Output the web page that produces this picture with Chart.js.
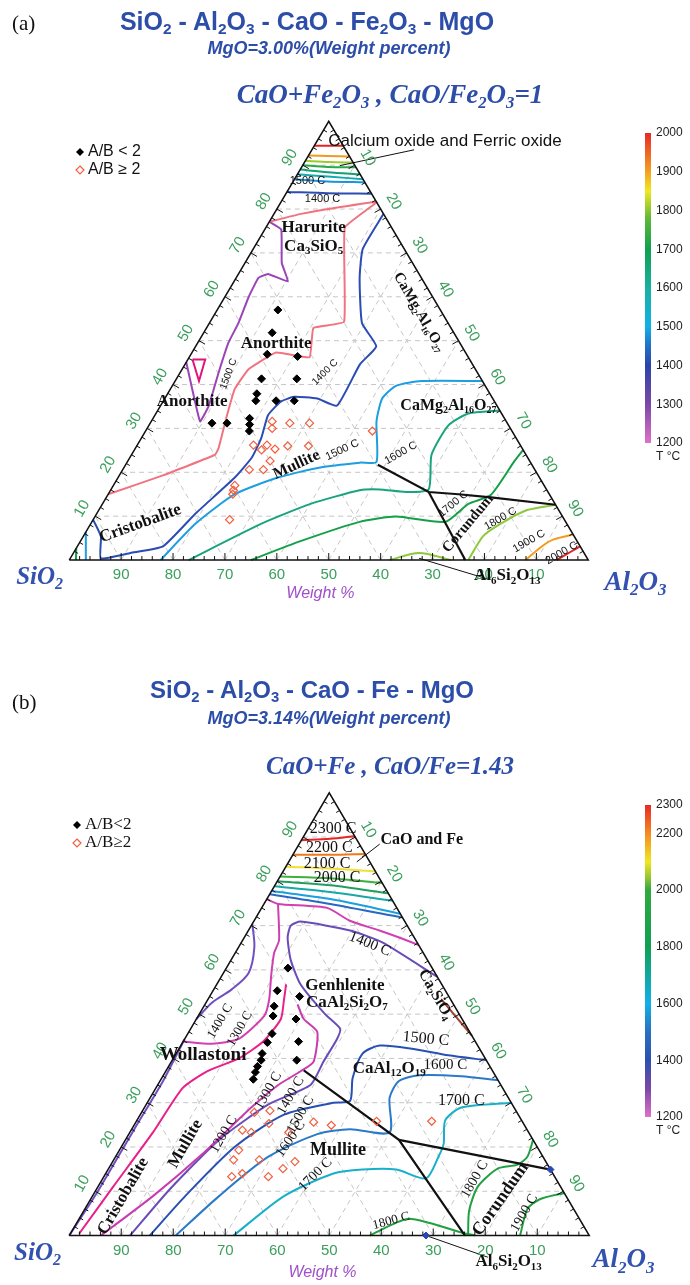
<!DOCTYPE html>
<html>
<head>
<meta charset="utf-8">
<title>SiO2 - Al2O3 - CaO ternary diagrams</title>
<script src="https://cdn.jsdelivr.net/npm/chart.js@4.4.1/dist/chart.umd.min.js"></script>
<style>
  html, body { margin: 0; padding: 0; background: #fff; }
  body { position: relative; width: 690px; height: 1285px; overflow: hidden; }
  canvas { position: absolute; left: 0; }
  .txt { position: absolute; white-space: nowrap; transform: translate(-50%, -50%); color: #2c4da8; line-height: 1; z-index: 2; }
  .main { font: bold 24px "Liberation Sans", Arial, sans-serif; }
  .sub { font: italic bold 18px "Liberation Sans", Arial, sans-serif; }
  .ratio { font: italic bold 26px "Liberation Serif", "Times New Roman", serif; }
  .tag { position: absolute; font: 21px "Liberation Serif", serif; color: #111; transform: translateY(-50%); z-index: 2; }
  sub { font-size: 62%; vertical-align: -0.3em; line-height: 0; }
</style>
</head>
<body>
<canvas id="chartA" width="690" height="640" style="top:0"></canvas>
<canvas id="chartB" width="690" height="645" style="top:640px"></canvas>

<div class="tag" style="left:12px;top:23px">(a)</div>
<div class="txt main" style="left:307px;top:21px;font-size:25px">SiO<sub>2</sub> - Al<sub>2</sub>O<sub>3</sub> - CaO - Fe<sub>2</sub>O<sub>3</sub> - MgO</div>
<div class="txt sub" style="left:329px;top:48px">MgO=3.00%(Weight percent)</div>
<div class="txt ratio" style="left:390px;top:94px;font-size:27px">CaO+Fe<sub>2</sub>O<sub>3</sub> , CaO/Fe<sub>2</sub>O<sub>3</sub>=1</div>

<div class="tag" style="left:12px;top:702px">(b)</div>
<div class="txt main" style="left:312px;top:690px">SiO<sub>2</sub> - Al<sub>2</sub>O<sub>3</sub> - CaO - Fe - MgO</div>
<div class="txt sub" style="left:329px;top:718px">MgO=3.14%(Weight percent)</div>
<div class="txt ratio" style="left:390px;top:766px;font-size:25px">CaO+Fe , CaO/Fe=1.43</div>

<script>
// every point is [Al2O3 %, CaO(+Fe) %]; SiO2 is the rest
const gridTicks = [10, 20, 30, 40, 50, 60, 70, 80, 90];
const minorStep = 2;

// ---------- (a) CaO + Fe2O3 ----------
const aTop2000 = [[0, 94.4], [2.8, 94.4], [5.6, 94.4]];
const aTop1900 = [[0, 92.2], [3.9, 92.1], [8.0, 92.0]];
const aTop1800 = [[0, 91.0], [4.6, 90.7], [9.4, 90.6]];
const aTop1700 = [[0, 90.0], [5.0, 89.6], [10.5, 89.5]];
const aTop1650 = [[0, 89.0], [5.6, 88.4], [12.1, 87.9]];
const aTop1600 = [[0, 87.9], [6.1, 87.4], [13.2, 86.8]];
const aTop1500 = [[0, 86.8], [6.6, 86.3], [13.9, 86.1]];
const aTop1400 = [[0, 83.9], [8.0, 83.6], [16.5, 83.5]];
const aSalmon = [[0, 77.1], [5.2, 78.9], [18.4, 81.6], [15.2, 75.8], [25.8, 54.3], [20.6, 52.9], [23.2, 46.2],
  [16.2, 47.3], [12.8, 43.5], [12.4, 39.0], [13.9, 33.0], [16.0, 25.6], [16.1, 24.0], [8.4, 19.3], [0, 15.0]];
const aPurple = [[0, 77.1], [3.2, 75.3], [7.1, 67.7], [10.4, 63.5], [5.7, 65.2], [4.3, 64.3], [4.6, 59.9],
  [5.6, 54.0], [5.9, 49.6], [7.4, 42.8], [9.3, 35.2], [9.4, 31.6], [0, 45.1]];
const aMagTri = [[0.9, 45.7], [3.35, 45.7], [4.6, 40.8], [0.9, 45.7]];
const aBlue1400 = [[21.1, 78.9], [21.1, 70.9], [23.8, 64.3], [29.4, 54.0], [34.8, 48.7], [33.7, 44.6], [34.0, 35.2],
  [29.4, 36.8], [24.7, 37.2], [22.7, 36.1], [21.8, 33.0], [23.1, 27.8], [23.5, 23.3], [22.5, 18.8], [19.0, 10.5],
  [16.5, 3.1], [11.0, 1.6], [5.9, 0.4], [3.4, 5.4], [0, 9.2]];
const aCyan1500 = [[17.6, 0], [20.2, 8.3], [24.4, 15.0], [30.8, 18.8], [37.8, 21.1], [44.9, 22.2], [48.0, 22.4],
  [43.4, 31.6], [41.9, 36.8], [43.1, 39.7], [47.5, 40.8], [59.2, 40.8]];
const aGreen1600 = [[23.0, 0], [32.9, 8.3], [40.1, 12.8], [48.0, 15.9], [51.7, 16.1], [57.1, 15.5], [61.2, 16.1],
  [57.8, 24.0], [57.7, 30.7], [60.2, 33.4], [65.9, 34.1]];
const aGreen1700 = [[35.0, 0], [42.4, 4.3], [51.6, 8.7], [58.0, 9.9], [68.1, 8.7], [70.5, 12.8], [73.8, 14.8],
  [74.5, 22.6], [74.9, 25.1]];
const aYg1800 = [[76.9, 0], [77.0, 5.4], [79.0, 8.3], [82.5, 11.4], [87.4, 12.6]];
const aYg1800b = [[61.7, 0], [66.6, 1.6], [73.6, 0]];
const aOr1900 = [[87.9, 0], [89.5, 3.1], [91.0, 4.7], [94.2, 5.8]];
const aRed2000 = [[93.9, 0], [95.8, 2.0], [96.9, 3.1]];
const aCorner1700 = [[1.3, 0], [0, 2.7]];
const aCorner1500 = [[3.2, 0], [0, 6.4]];
const aBoundA = [[48.6, 21.7], [61.5, 15.5], [67.5, 15.0], [74.1, 14.3], [87.4, 12.6]];
const aBoundB = [[61.5, 15.5], [76.3, 0]];
const aLeadCa = [[7.2, 89.9], [19.7, 93.5]];
const aLeadAl = [[67.2, 0.4], [82.7, -4.3]];
const aBlack = [[11.7, 57.0], [13.2, 51.8], [14.7, 46.9], [20.8, 46.4], [16.4, 41.3], [23.2, 41.3], [17.2, 37.9],
  [17.8, 36.3], [21.7, 36.3], [25.2, 36.3], [11.9, 31.2], [14.8, 31.2], [18.6, 32.3], [19.3, 30.9], [20.0, 29.4]];
const aRed = [[23.3, 31.6], [24.1, 30.0], [26.9, 31.2], [30.7, 31.2], [22.4, 26.2], [24.5, 25.1], [25.0, 26.2],
  [27.0, 25.3], [29.1, 26.0], [33.1, 26.0], [27.4, 22.6], [24.4, 20.6], [27.1, 20.6], [23.4, 17.0], [23.7, 15.9],
  [24.0, 15.0], [26.3, 9.2], [43.7, 29.4]];
const aBarTicks = [2000, 1900, 1800, 1700, 1600, 1500, 1400, 1300, 1200];

// ---------- (b) CaO + Fe ----------
const bTop2300 = [[0, 89.3], [5.4, 89.6], [9.8, 90.2]];
const bTop2200 = [[0, 86.0], [7.2, 86.0], [13.8, 86.2]];
const bTop2100 = [[0, 83.3], [8.75, 82.9], [17.8, 82.2]];
const bTop2000 = [[0, 81.1], [9.85, 80.7], [20.4, 79.6]];
const bTop1900 = [[0, 80.0], [10.65, 79.1], [22.7, 77.3]];
const bTop1800 = [[0, 78.9], [11.4, 77.6], [24.4, 75.6]];
const bTop1700 = [[0, 77.8], [12.2, 76.0], [27.3, 72.7]];
const bTop1600 = [[0, 77.1], [12.75, 74.9], [28.2, 71.8]];
const bMagTop = [[0, 76.0], [2.7, 74.9], [12.6, 74.0], [18.4, 71.1], [25.2, 68.9], [29.8, 67.3], [34.4, 65.6]];
const bMagVert = [[2.7, 74.9], [7.0, 66.7], [7.5, 63.8], [9.4, 58.9], [11.8, 53.3], [12.7, 49.6], [10.4, 44.4],
  [5.8, 43.3], [0, 43.8]];
const bPurpLoop = [[0, 70.4], [3.05, 65.1], [4.85, 59.3], [3.45, 55.6], [1.2, 52.7], [0, 48.9]];
const bPurpEdge = [[0, 44.4], [0.6, 34.9], [0.5, 23.8], [0.5, 9.6], [0, 0]];
const bMag1200 = [[1.7, 0.4], [2.95, 11.1], [4.45, 23.3], [5.15, 33.3], [7.95, 37.1], [12.6, 40.0], [15.4, 43.8],
  [16.25, 48.9], [14.65, 53.3], [13.35, 56.7]];
const bMag1300 = [[6.1, 0], [11.65, 8.9], [16.4, 18.4], [20.55, 28.9], [23.2, 34.0], [25.95, 37.1], [27.35, 39.3],
  [24.7, 46.0], [20.65, 48.9], [17.8, 52.2]];
const bPurp1400 = [[41.6, 58.4], [27.1, 66.2], [19.55, 68.9], [9.05, 70.9], [7.6, 70.0], [8.35, 67.3], [11.5, 62.2],
  [16.15, 56.7], [24.2, 50.0], [28.75, 46.7], [29.3, 44.4], [29.25, 39.3], [29.4, 34.0], [23.5, 29.6], [18.0, 21.6],
  [14.1, 10.4], [11.7, 0]];
const b1500 = [[15.5, 0], [17.85, 8.9], [21.8, 20.0], [27.65, 27.3], [35.8, 30.0], [38.8, 30.4], [36.7, 35.6],
  [35.85, 41.1], [38.25, 42.9], [44.8, 42.2], [52.55, 40.7], [60.4, 39.6]];
const b1600 = [[20.5, 0], [24.35, 8.9], [29.4, 17.8], [36.25, 22.9], [42.0, 24.0], [49.95, 23.3], [46.05, 31.1],
  [45.95, 34.9], [49.1, 36.2], [57.4, 36.0], [64.9, 35.1]];
const b1700 = [[31.6, 0], [36.85, 8.9], [43.8, 14.0], [48.95, 14.9], [55.45, 14.9], [62.15, 12.9], [62.1, 17.8],
  [61.65, 20.7], [59.3, 26.0], [60.95, 28.9], [70.0, 30.0]];
const b1800 = [[76.7, 0], [74.1, 5.6], [73.05, 11.1], [74.85, 15.1], [78.2, 16.0], [79.2, 17.8], [78.4, 21.6]];
const b1900 = [[86.7, 0], [85.1, 6.0], [86.4, 8.2], [90.4, 9.6]];
const b1800arc = [[57.8, 0], [61.45, 2.9], [63.4, 3.8], [67.65, 2.9], [75.05, 0.7], [78.0, 0]];
const bBoundA = [[26.45, 37.3], [52.6, 21.6], [76.1, 0]];
const bBoundB = [[52.6, 21.6], [85.1, 14.9]];
const bBrown = [[44.95, 53.3], [54.9, 45.1]];
const bLeadCa = [[13.1, 84.4], [15.5, 88.4]];
const bLeadAl = [[68.6, 0], [82.95, -4.9]];
const bBlueDots = [[85.1, 14.9], [68.6, 0]];
const bBlack = [[11.85, 60.4], [17.3, 54.0], [12.35, 55.3], [13.5, 51.8], [14.4, 49.6], [16.2, 45.6], [16.3, 43.6],
  [16.55, 41.1], [17.1, 39.6], [17.1, 38.2], [17.35, 36.9], [17.75, 35.3], [19.15, 48.9], [22.2, 43.8], [23.95, 39.6]];
const bRed = [[21.7, 27.8], [24.5, 28.2], [25.75, 25.3], [21.4, 23.8], [23.35, 23.3], [30.55, 23.3], [34.2, 25.6],
  [37.95, 24.9], [22.95, 19.3], [23.05, 17.1], [28.0, 17.1], [24.6, 13.3], [26.3, 14.0], [31.65, 13.3], [33.55, 15.1],
  [35.05, 16.7], [46.2, 25.8], [56.8, 25.8]];
const bBarTicks = [2300, 2200, 2000, 1800, 1600, 1400, 1200];

// ---------- helpers ----------
const toXY = ([a, c]) => ({ x: a + c / 2, y: c });

function fontFor(kind, size) {
  switch (kind) {
    case 'serifB': return `bold ${size}px "Liberation Serif", "Times New Roman", serif`;
    case 'serif': return `${size}px "Liberation Serif", "Times New Roman", serif`;
    case 'serifBI': return `italic bold ${size}px "Liberation Serif", "Times New Roman", serif`;
    case 'sansI': return `italic ${size}px "Liberation Sans", Arial, sans-serif`;
    default: return `${size}px "Liberation Sans", Arial, sans-serif`;
  }
}

// text with {sub} parts drawn as subscripts
function drawRich(ctx, text, x, y, kind, size, color, align, rot) {
  const parts = text.split(/(\{[^}]*\})/).filter(s => s.length)
    .map(s => s[0] === '{' ? { s: s.slice(1, -1), sub: true } : { s: s, sub: false });
  let total = 0;
  parts.forEach(p => {
    ctx.font = fontFor(kind, p.sub ? Math.round(size * 0.62) : size);
    p.w = ctx.measureText(p.s).width;
    total += p.w;
  });
  ctx.save();
  ctx.translate(x, y);
  ctx.rotate((rot || 0) * Math.PI / 180);
  ctx.fillStyle = color || '#111';
  ctx.textBaseline = 'middle';
  ctx.textAlign = 'left';
  let cx = align === 'left' ? 0 : -total / 2;
  parts.forEach(p => {
    ctx.font = fontFor(kind, p.sub ? Math.round(size * 0.62) : size);
    ctx.fillText(p.s, cx, p.sub ? size * 0.3 : 0);
    cx += p.w;
  });
  ctx.restore();
}

function lineSet(l) {
  return {
    data: l.pts.map(toXY), showLine: true, borderColor: l.c, borderWidth: l.w || 2,
    pointRadius: 0, tension: l.t === undefined ? 0.3 : l.t, fill: false, order: l.o || 5
  };
}

function gridSets() {
  const sets = [];
  gridTicks.forEach(v => {
    [[[0, v], [100 - v, v]], [[v, 0], [v, 100 - v]], [[100 - v, 0], [0, 100 - v]]].forEach(seg => {
      sets.push({
        data: seg.map(toXY), showLine: true, borderColor: '#c6c6c6', borderWidth: 1,
        borderDash: [5, 4], pointRadius: 0, tension: 0, order: 20
      });
    });
  });
  return sets;
}

const ternaryDeco = {
  id: 'ternaryDeco',
  afterDatasetsDraw(chart, args, opts) {
    const { ctx } = chart;
    const sx = chart.scales.x, sy = chart.scales.y;
    const px = p => { const q = toXY(p); return [sx.getPixelForValue(q.x), sy.getPixelForValue(q.y)]; };
    const c30 = Math.cos(Math.PI / 6), s30 = 0.5;

    // edge ticks
    ctx.save();
    ctx.strokeStyle = '#111';
    ctx.lineWidth = 1;
    for (let v = minorStep; v < 100; v += minorStep) {
      const len = v % 10 === 0 ? 7 : 4;
      const marks = [
        [px([v, 0]), [0, -1]],
        [px([0, v]), [c30, s30]],
        [px([v, 100 - v]), [-c30, s30]]
      ];
      marks.forEach(([p, d]) => {
        ctx.beginPath();
        ctx.moveTo(p[0], p[1]);
        ctx.lineTo(p[0] + d[0] * len, p[1] + d[1] * len);
        ctx.stroke();
      });
    }
    ctx.restore();

    // edge numbers
    gridTicks.forEach(v => {
      const b = px([v, 0]);
      drawRich(ctx, String(100 - v), b[0], b[1] + 15, 'sans', 15, '#3a9e5c');
      const l = px([0, v]);
      drawRich(ctx, String(v), l[0] - 15 * c30, l[1] - 15 * s30, 'sans', 15, '#3a9e5c', 'center', -60);
      const r = px([v, 100 - v]);
      drawRich(ctx, String(v), r[0] + 15 * c30, r[1] - 15 * s30, 'sans', 15, '#3a9e5c', 'center', 60);
    });

    // annotations
    opts.labels.forEach(l => {
      const p = px(l.at);
      drawRich(ctx, l.t, p[0], p[1], l.f, l.s, l.c, l.al, l.r);
    });

    // legend
    const lg = opts.legend;
    lg.items.forEach((it, i) => {
      const y = lg.y + i * lg.gap;
      ctx.save();
      ctx.beginPath();
      ctx.moveTo(lg.x, y - 4); ctx.lineTo(lg.x + 4, y); ctx.lineTo(lg.x, y + 4); ctx.lineTo(lg.x - 4, y); ctx.closePath();
      if (it.filled) { ctx.fillStyle = '#000'; ctx.fill(); }
      else { ctx.strokeStyle = '#f06040'; ctx.lineWidth = 1.2; ctx.stroke(); }
      ctx.restore();
      drawRich(ctx, it.t, lg.x + 8, y, lg.f, lg.s, '#111', 'left');
    });

    // temperature bar
    const bar = opts.bar;
    const ty = t => bar.top + (bar.tmax - t) / (bar.tmax - bar.tmin) * (bar.bottom - bar.top);
    const g = ctx.createLinearGradient(0, bar.bottom, 0, bar.top);
    bar.stops.forEach(([t, col]) => g.addColorStop((t - bar.tmin) / (bar.tmax - bar.tmin), col));
    ctx.save();
    ctx.fillStyle = g;
    ctx.fillRect(bar.x, bar.top, bar.w, bar.bottom - bar.top);
    ctx.restore();
    bar.ticks.forEach(t => drawRich(ctx, String(t), bar.x + bar.w + 5, ty(t), 'sans', 12, '#222', 'left'));
    drawRich(ctx, 'T °C', bar.x + bar.w + 5, ty(bar.tmin) + 14, 'sans', 12, '#222', 'left');
  }
};

function makeChart(id, frame, lines, points, deco) {
  const kx = (frame.right - frame.left) / 100;
  const ky = (frame.base - frame.apex) / 100;
  const datasets = gridSets();
  datasets.push({
    data: [[0, 0], [100, 0], [0, 100], [0, 0]].map(toXY), showLine: true, borderColor: '#111',
    borderWidth: 1.5, pointRadius: 0, tension: 0, order: 2
  });
  lines.forEach(l => datasets.push(lineSet(l)));
  points.forEach(p => datasets.push({
    data: p.pts.map(toXY), showLine: false, pointStyle: 'rectRot', pointRadius: p.r || 4,
    backgroundColor: p.fill, borderColor: p.stroke, borderWidth: p.bw || 1, order: 0
  }));
  return new Chart(document.getElementById(id), {
    type: 'scatter',
    data: { datasets },
    options: {
      responsive: false,
      devicePixelRatio: 1,
      animation: false,
      events: [],
      layout: { padding: 0 },
      scales: {
        x: { type: 'linear', display: false, bounds: 'data', min: -frame.left / kx, max: (frame.w - frame.left) / kx },
        y: { type: 'linear', display: false, bounds: 'data', min: -(frame.h - frame.base) / ky, max: frame.base / ky }
      },
      plugins: { legend: { display: false }, tooltip: { enabled: false }, ternaryDeco: deco }
    },
    plugins: [ternaryDeco]
  });
}

const blue = '#3352b0';

makeChart('chartA', { w: 690, h: 640, left: 65, right: 592, base: 564, apex: 118 }, [
  { pts: aTop2000, c: '#e42424' }, { pts: aTop1900, c: '#f39a1e' }, { pts: aTop1800, c: '#9ccc2c' },
  { pts: aTop1700, c: '#2aa84a' }, { pts: aTop1650, c: '#14a070' }, { pts: aTop1600, c: '#14a8b0' },
  { pts: aTop1500, c: '#1c94dc' }, { pts: aTop1400, c: '#2a4cb4' },
  { pts: aSalmon, c: '#f07480', t: 0.1 }, { pts: aPurple, c: '#9a44b8', t: 0.1 }, { pts: aMagTri, c: '#e0147c', t: 0 },
  { pts: aBlue1400, c: '#2a4cb4', t: 0.15 }, { pts: aCyan1500, c: '#1c9ee0', t: 0.2 },
  { pts: aGreen1600, c: '#18a47c', t: 0.2 }, { pts: aGreen1700, c: '#14a048', t: 0.2 },
  { pts: aYg1800, c: '#8cc83a', t: 0.2 }, { pts: aYg1800b, c: '#8cc83a' }, { pts: aOr1900, c: '#f39a1e' },
  { pts: aRed2000, c: '#e42424' }, { pts: aCorner1700, c: '#14a048', t: 0 }, { pts: aCorner1500, c: '#1c9ee0', t: 0 },
  { pts: aBoundA, c: '#111', w: 2.2, t: 0, o: 3 }, { pts: aBoundB, c: '#111', w: 2.2, t: 0, o: 3 },
  { pts: aLeadCa, c: '#111', w: 1, t: 0, o: 3 }, { pts: aLeadAl, c: '#111', w: 1, t: 0, o: 3 }
], [
  { pts: aBlack, fill: '#000', stroke: '#000' },
  { pts: aRed, fill: 'rgba(255,255,255,0)', stroke: '#f06040', bw: 1.2 }
], {
  labels: [
    { t: 'Calcium oxide and Ferric oxide', at: [2.15, 95.5], f: 'sans', s: 17, al: 'left' },
    { t: '1500 C', at: [2.65, 86.5], f: 'sans', s: 11 },
    { t: '1400 C', at: [7.65, 82.3], f: 'sans', s: 11 },
    { t: 'Harurite', at: [9.2, 75.8], f: 'serifB', s: 17 },
    { t: 'Ca{3}SiO{5}', at: [11.35, 71.5], f: 'serifB', s: 17 },
    { t: 'CaMg{2}Al{16}O{27}', at: [39.15, 56.5], f: 'serifB', s: 15, r: 60 },
    { t: 'Anorthite', at: [15.2, 49.3], f: 'serifB', s: 17 },
    { t: 'Anorthite', at: [5.65, 36.1], f: 'serifB', s: 17 },
    { t: '1500 C', at: [9.5, 42.4], f: 'sans', s: 10, r: -70 },
    { t: '1400 C', at: [27.9, 42.8], f: 'sans', s: 10, r: -45 },
    { t: 'CaMg{2}Al{16}O{27}', at: [55.45, 35.2], f: 'serifB', s: 16 },
    { t: '1600 C', at: [51.7, 24.4], f: 'sans', s: 11, r: -30 },
    { t: 'Mullite', at: [32.95, 21.7], f: 'serifB', s: 16, r: -25 },
    { t: '1500 C', at: [40.05, 25.1], f: 'sans', s: 11, r: -25 },
    { t: 'Cristobalite', at: [9.55, 8.3], f: 'serifB', s: 17, r: -20 },
    { t: '1700 C', at: [67.6, 12.8], f: 'sans', s: 11, r: -40 },
    { t: 'Corundum', at: [72.7, 8.3], f: 'serifB', s: 15, r: -50 },
    { t: '1800 C', at: [78.4, 9.4], f: 'sans', s: 11, r: -30 },
    { t: '1900 C', at: [86.45, 4.3], f: 'sans', s: 11, r: -30 },
    { t: '2000 C', at: [94.1, 1.6], f: 'sans', s: 11, r: -30 },
    { t: 'Al{6}Si{2}O{13}', at: [86.2, -3.6], f: 'serifB', s: 17 },
    { t: 'SiO{2}', at: [-3.7, -4.0], f: 'serifBI', s: 25, c: blue },
    { t: 'Al{2}O{3}', at: [111.7, -5.2], f: 'serifBI', s: 27, c: blue },
    { t: 'Weight %', at: [52.2, -7.6], f: 'sansI', s: 16, c: '#a050c8' }
  ],
  legend: { x: 80, y: 152, gap: 18, f: 'sans', s: 16, items: [{ t: 'A/B < 2', filled: true }, { t: 'A/B ≥ 2', filled: false }] },
  bar: {
    x: 645, w: 6, top: 133, bottom: 443, tmin: 1200, tmax: 2000, ticks: aBarTicks,
    stops: [[1200, '#e070c8'], [1300, '#7a48a8'], [1400, '#2c44a8'], [1450, '#2070c8'], [1500, '#10b0e8'],
      [1600, '#18b0a0'], [1700, '#10a050'], [1780, '#60b838'], [1850, '#f0e820'], [1900, '#f4a020'], [2000, '#e82828']]
  }
});

makeChart('chartB', { w: 690, h: 645, left: 65, right: 593, base: 600, apex: 150 }, [
  { pts: bTop2300, c: '#e82525' }, { pts: bTop2200, c: '#f07818' }, { pts: bTop2100, c: '#f0e030' },
  { pts: bTop2000, c: '#3cb03c' }, { pts: bTop1900, c: '#20a060' }, { pts: bTop1800, c: '#18a8a8' },
  { pts: bTop1700, c: '#18a0e0' }, { pts: bTop1600, c: '#2868c0' },
  { pts: bMagTop, c: '#d040b0', t: 0.2 }, { pts: bMagVert, c: '#d040b0', t: 0.2 },
  { pts: bPurpLoop, c: '#7050c0', t: 0.3 }, { pts: bPurpEdge, c: '#7050c0', t: 0.2 },
  { pts: bMag1200, c: '#e8208a', t: 0.2 }, { pts: bMag1300, c: '#c83cb0', t: 0.2 },
  { pts: bPurp1400, c: '#6a4cb8', t: 0.2 }, { pts: b1500, c: '#2850b4', t: 0.25 },
  { pts: b1600, c: '#2a7ac8', t: 0.25 }, { pts: b1700, c: '#18b0c8', t: 0.25 },
  { pts: b1800, c: '#20a040', t: 0.25 }, { pts: b1900, c: '#20a040', t: 0.25 },
  { pts: b1800arc, c: '#20a040', t: 0.3 }, { pts: bBrown, c: '#a04030', t: 0 },
  { pts: bBoundA, c: '#111', w: 2.2, t: 0, o: 3 }, { pts: bBoundB, c: '#111', w: 2.2, t: 0, o: 3 },
  { pts: bLeadCa, c: '#111', w: 1, t: 0, o: 3 }, { pts: bLeadAl, c: '#111', w: 1, t: 0, o: 3 }
], [
  { pts: bBlack, fill: '#000', stroke: '#000' },
  { pts: bRed, fill: 'rgba(255,255,255,0)', stroke: '#f06040', bw: 1.2 },
  { pts: bBlueDots, fill: '#2848b8', stroke: '#2848b8', r: 3.5 }
], {
  labels: [
    { t: '2300 C', at: [4.85, 91.8], f: 'serif', s: 16 },
    { t: '2200 C', at: [6.2, 87.6], f: 'serif', s: 16 },
    { t: '2100 C', at: [7.6, 84.0], f: 'serif', s: 16 },
    { t: '2000 C', at: [11.05, 80.9], f: 'serif', s: 16 },
    { t: 'CaO and Fe', at: [23.15, 89.3], f: 'serifB', s: 16 },
    { t: '1400 C', at: [24.9, 65.8], f: 'serif', s: 15, r: 22 },
    { t: 'Genhlenite', at: [24.8, 56.4], f: 'serifB', s: 17 },
    { t: 'CaAl{2}Si{2}O{7}', at: [27.05, 52.7], f: 'serifB', s: 17 },
    { t: 'Ca{2}SiO{4}', at: [43.25, 54.4], f: 'serifB', s: 16, r: 60 },
    { t: 'Wollastoni', at: [5.4, 40.7], f: 'serifB', s: 19 },
    { t: '1400 C', at: [4.8, 48.4], f: 'serif', s: 13, r: -60 },
    { t: '1300 C', at: [9.45, 46.7], f: 'serif', s: 13, r: -60 },
    { t: '1300 C', at: [21.95, 32.7], f: 'serif', s: 14, r: -60 },
    { t: '1400 C', at: [26.8, 31.6], f: 'serif', s: 14, r: -60 },
    { t: '1500 C', at: [30.85, 27.3], f: 'serif', s: 14, r: -60 },
    { t: '1600 C', at: [31.7, 21.8], f: 'serif', s: 14, r: -55 },
    { t: '1700 C', at: [40.45, 13.8], f: 'serif', s: 14, r: -45 },
    { t: '1200 C', at: [18.25, 22.9], f: 'serif', s: 14, r: -60 },
    { t: 'Mullite', at: [12.0, 20.7], f: 'serifB', s: 17, r: -60 },
    { t: 'Mullite', at: [42.05, 19.3], f: 'serifB', s: 18 },
    { t: 'Cristobalite', at: [5.95, 8.9], f: 'serifB', s: 17, r: -60 },
    { t: 'CaAl{12}O{19}', at: [42.65, 37.8], f: 'serifB', s: 17 },
    { t: '1600 C', at: [53.15, 38.4], f: 'serif', s: 15 },
    { t: '1500 C', at: [46.4, 44.4], f: 'serif', s: 16, r: 5 },
    { t: '1700 C', at: [60.2, 30.4], f: 'serif', s: 16 },
    { t: '1800 C', at: [71.65, 12.7], f: 'serif', s: 14, r: -60 },
    { t: 'Corundum', at: [78.85, 8.2], f: 'serifB', s: 18, r: -55 },
    { t: '1900 C', at: [84.95, 5.1], f: 'serif', s: 14, r: -60 },
    { t: '1800 C', at: [60.25, 3.3], f: 'serif', s: 13, r: -15 },
    { t: 'Al{6}Si{2}O{13}', at: [87.5, -6.0], f: 'serifB', s: 17 },
    { t: 'SiO{2}', at: [-4.1, -4.0], f: 'serifBI', s: 25, c: blue },
    { t: 'Al{2}O{3}', at: [109.4, -5.6], f: 'serifBI', s: 27, c: blue },
    { t: 'Weight %', at: [52.9, -8.4], f: 'sansI', s: 16, c: '#a050c8' }
  ],
  legend: { x: 77, y: 185, gap: 18, f: 'serif', s: 17, items: [{ t: 'A/B<2', filled: true }, { t: 'A/B≥2', filled: false }] },
  bar: {
    x: 645, w: 6, top: 165, bottom: 477, tmin: 1200, tmax: 2300, ticks: bBarTicks,
    stops: [[1200, '#e070c8'], [1300, '#7a48a8'], [1400, '#2c50b0'], [1500, '#2870c0'], [1600, '#10b0e8'],
      [1700, '#10a8a0'], [1800, '#10a050'], [2000, '#30a840'], [2050, '#a0c830'], [2100, '#f0e820'],
      [2200, '#f48a20'], [2300, '#e82828']]
  }
});
</script>
</body>
</html>
